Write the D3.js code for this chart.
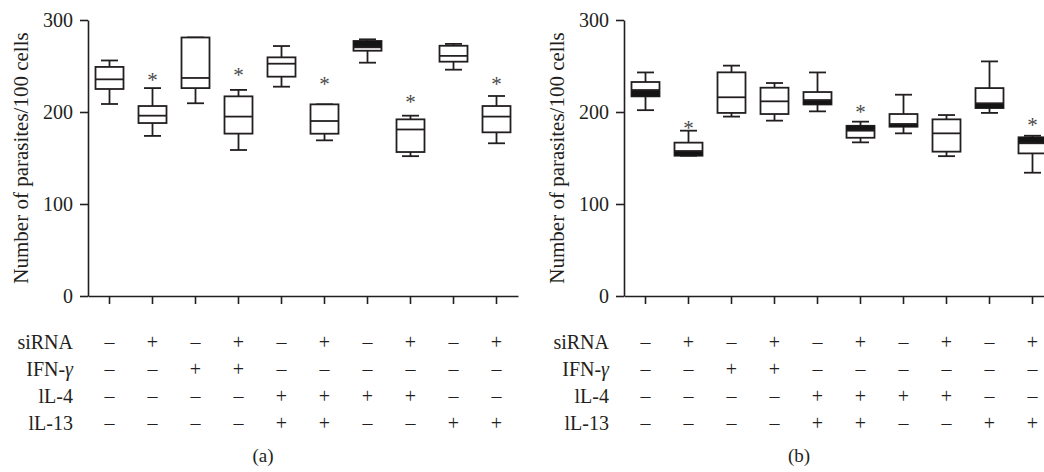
<!doctype html>
<html>
<head>
    <script src="https://cdn.jsdelivr.net/npm/d3@7"></script>
    <style>
      body { margin: 0; background: #fff; }
      text { font-family: "Liberation Serif", "Times New Roman", serif; fill: #231f20; }
    </style>
</head>
<body>
    <svg id="chart" width="1044" height="472"></svg>
    <script>
        // group order along x (same for both panels)
        const groups = ["g1", "g2", "g3", "g4", "g5", "g6", "g7", "g8", "g9", "g10"];

        // treatment table (1 = +, 0 = –)
        const rowLabels = ["siRNA", "IFN-", "lL-4", "lL-13"];
        const siRNA = [0, 1, 0, 1, 0, 1, 0, 1, 0, 1];
        const ifnG  = [0, 0, 1, 1, 0, 0, 0, 0, 0, 0];
        const il4   = [0, 0, 0, 0, 1, 1, 1, 1, 0, 0];
        const il13  = [0, 0, 0, 0, 1, 1, 0, 0, 1, 1];

        const yTicks = [0, 100, 200, 300];

        // panel (a) box statistics
        const aMin = [208.7, 174, 209.5, 158.7, 227.5, 169.2, 253.6, 152, 246, 166];
        const aQ1  = [225, 188, 226, 176.5, 238.4, 176.4, 266.6, 156.5, 254.7, 177.9];
        const aMed = [235.5, 196, 237, 195, 252.5, 190.2, 270.3, 181, 261, 195];
        const aQ3  = [249, 206.5, 281, 217, 259.4, 208.3, 277.2, 192, 272, 206.5];
        const aMax = [256, 226, 281, 224, 271.7, 208.3, 279, 196, 274, 217.4];
        // dark band between median and quartile: 1 = toward Q3, -1 = toward Q1, 0 = none
        const aBand = [0, 0, 0, 0, 0, 0, 1, 0, 0, 0];
        // asterisk positions (value units), null = no mark
        const aStar = [null, 238, null, 243.5, null, 233.7, null, 213.8, null, 233.7];

        // panel (b) box statistics
        const bMin = [202, 152.5, 195, 190.6, 200.7, 167, 176.8, 152, 199, 134];
        const bQ1  = [217, 152.5, 199, 197.8, 208.2, 172, 184, 156.9, 204.3, 155];
        const bMed = [223.9, 157.6, 216, 211.6, 213, 179.7, 187, 176.8, 209.5, 166];
        const bQ3  = [232.6, 166.7, 243.1, 226.4, 221.7, 185, 197.8, 192, 226, 172.5];
        const bMax = [243, 179.7, 250.4, 231.5, 243, 189.5, 218.8, 196.7, 255, 174.2];
        const bBand = [-1, -1, 0, 0, -1, 1, -1, 0, -1, 1];
        const bStar = [null, 185.9, null, null, null, 203.6, null, null, null, 189.5];

        const svg = d3.select("#chart");
        const ink = "#231f20";

        function drawPanel(x0, label, mins, q1s, meds, q3s, maxs, bands, stars) {
          const g = svg.append("g");
          const x = d3.scaleBand().domain(groups).range([x0, x0 + 430]);
          const y = d3.scaleLinear().domain([0, 300]).range([296, 20]);
          const boxW = 28, capW = 17;

          // y axis
          const ya = g.append("g")
            .attr("transform", `translate(${x0},0)`)
            .call(d3.axisLeft(y).tickValues(yTicks).tickSize(8).tickSizeOuter(0).tickPadding(7));
          ya.select(".domain").attr("stroke", ink).attr("stroke-width", 1.6);
          ya.selectAll(".tick line").attr("stroke", ink).attr("stroke-width", 1.6);
          ya.selectAll(".tick text").attr("font-size", 20).attr("fill", ink);

          // x axis
          const xa = g.append("g")
            .attr("transform", "translate(0,296)")
            .call(d3.axisBottom(x).tickSize(8).tickSizeOuter(0).tickFormat(""));
          xa.select(".domain").attr("stroke", ink).attr("stroke-width", 1.6);
          xa.selectAll(".tick line").attr("stroke", ink).attr("stroke-width", 1.6);

          // axis title
          g.append("text")
            .attr("transform", `translate(${x0 - 60},${(y(0) + y(300)) / 2}) rotate(-90)`)
            .attr("text-anchor", "middle")
            .attr("font-size", 21)
            .text("Number of parasites/100 cells");

          const data = groups.map((k, i) => ({
            k, min: mins[i], q1: q1s[i], med: meds[i], q3: q3s[i], max: maxs[i], band: bands[i], star: stars[i]
          }));

          const box = g.selectAll(".box").data(data).join("g")
            .attr("class", "box")
            .attr("transform", d => `translate(${x(d.k) + x.bandwidth() / 2},0)`);

          // whiskers
          box.append("line").attr("x1", 0).attr("x2", 0)
            .attr("y1", d => y(d.max)).attr("y2", d => y(d.q3))
            .attr("stroke", ink).attr("stroke-width", 1.8);
          box.append("line").attr("x1", 0).attr("x2", 0)
            .attr("y1", d => y(d.q1)).attr("y2", d => y(d.min))
            .attr("stroke", ink).attr("stroke-width", 1.8);
          box.append("line").attr("x1", -capW / 2).attr("x2", capW / 2)
            .attr("y1", d => y(d.max)).attr("y2", d => y(d.max))
            .attr("stroke", ink).attr("stroke-width", 1.8);
          box.append("line").attr("x1", -capW / 2).attr("x2", capW / 2)
            .attr("y1", d => y(d.min)).attr("y2", d => y(d.min))
            .attr("stroke", ink).attr("stroke-width", 1.8);

          // box
          box.append("rect")
            .attr("x", -boxW / 2).attr("width", boxW)
            .attr("y", d => y(d.q3)).attr("height", d => y(d.q1) - y(d.q3))
            .attr("fill", "#fff").attr("stroke", ink).attr("stroke-width", 1.8);

          // dark band next to the median
          box.filter(d => d.band !== 0).append("rect")
            .attr("x", -boxW / 2).attr("width", boxW)
            .attr("y", d => d.band > 0 ? y(d.q3) : y(d.med))
            .attr("height", d => d.band > 0 ? y(d.med) - y(d.q3) : y(d.q1) - y(d.med))
            .attr("fill", "#141414");

          // median
          box.append("line").attr("x1", -boxW / 2).attr("x2", boxW / 2)
            .attr("y1", d => y(d.med)).attr("y2", d => y(d.med))
            .attr("stroke", ink).attr("stroke-width", 1.8);

          // significance marks
          box.filter(d => d.star != null).append("text")
            .attr("text-anchor", "middle")
            .attr("y", d => y(d.star) + 10)
            .attr("font-size", 21)
            .style("fill", "#4a4a4a")
            .text("*");

          // treatment table
          const rows = [siRNA, ifnG, il4, il13];
          const rowY = [349, 376, 403, 430];
          rows.forEach((vals, r) => {
            const lab = g.append("text")
              .attr("x", x0 - 15).attr("y", rowY[r])
              .attr("text-anchor", "end").attr("font-size", 20)
              .text(rowLabels[r]);
            if (r === 1) lab.append("tspan").attr("font-style", "italic").text("\u03b3");
            g.selectAll(null).data(vals.map((v, i) => ({ v, k: groups[i] }))).join("text")
              .attr("x", d => x(d.k) + x.bandwidth() / 2)
              .attr("y", rowY[r])
              .attr("text-anchor", "middle").attr("font-size", 20)
              .text(d => d.v ? "+" : "\u2013");
          });

          // panel label
          g.append("text")
            .attr("x", x0 + 175).attr("y", 462)
            .attr("text-anchor", "middle").attr("font-size", 19)
            .text(label);
        }

        drawPanel(88, "(a)", aMin, aQ1, aMed, aQ3, aMax, aBand, aStar);
        drawPanel(624, "(b)", bMin, bQ1, bMed, bQ3, bMax, bBand, bStar);
    </script>
</body>
</html>
